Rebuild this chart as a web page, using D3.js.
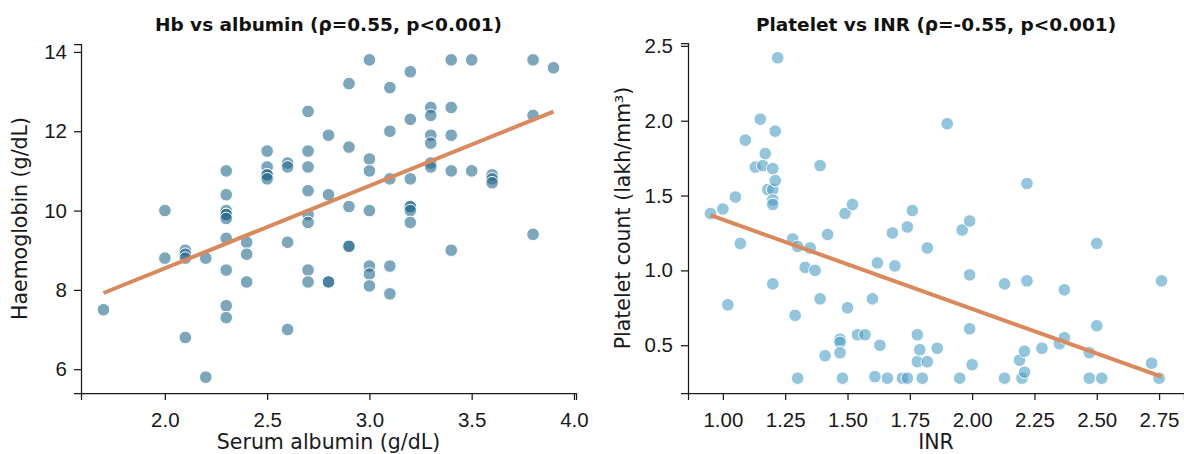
<!DOCTYPE html>
<html>
<head>
<meta charset="utf-8">
<script src="https://cdn.jsdelivr.net/npm/d3@7"></script>
<style>
  body { margin: 0; background: #fff; }
  svg { display: block; font-family: "DejaVu Sans", sans-serif; }
  .tick text { font-size: 20.5px; fill: #1a1a1a; }
  .tick line, .domain { stroke: #1a1a1a; stroke-width: 1.25; }
  .axlabel { font-size: 20.5px; fill: #1a1a1a; }
  .title { font-size: 18.5px; font-weight: bold; fill: #111; }
</style>
</head>
<body>
<div class="viz"></div>
<script>
// left panel: serum albumin vs haemoglobin
const albumin = [1.7,
  2.0, 2.0,
  2.1, 2.1, 2.1, 2.1,
  2.2, 2.2,
  2.3, 2.3, 2.3, 2.3, 2.3, 2.3, 2.3, 2.3, 2.3, 2.3,
  2.4, 2.4, 2.4,
  2.5, 2.5, 2.5, 2.5, 2.5,
  2.6, 2.6, 2.6, 2.6,
  2.7, 2.7, 2.7, 2.7, 2.7, 2.7, 2.7, 2.7,
  2.8, 2.8, 2.8, 2.8,
  2.9, 2.9, 2.9, 2.9, 2.9,
  3.0, 3.0, 3.0, 3.0, 3.0, 3.0, 3.0,
  3.1, 3.1, 3.1, 3.1, 3.1,
  3.2, 3.2, 3.2, 3.2, 3.2, 3.2, 3.2,
  3.3, 3.3, 3.3, 3.3, 3.3, 3.3,
  3.4, 3.4, 3.4, 3.4, 3.4,
  3.5, 3.5,
  3.6, 3.6, 3.6,
  3.8, 3.8, 3.8,
  3.9]
const hb = [7.5,
  10.0, 8.8,
  9.0, 8.9, 8.8, 6.8,
  8.8, 5.8,
  11.0, 10.4, 10.0, 9.9, 9.9, 9.8, 9.3, 8.5, 7.6, 7.3,
  9.2, 8.9, 8.2,
  11.5, 11.1, 10.9, 10.9, 10.8,
  11.2, 11.1, 9.2, 7.0,
  12.5, 11.5, 11.1, 10.5, 9.9, 9.7, 8.5, 8.2,
  11.9, 10.4, 8.2, 8.2,
  13.2, 11.6, 10.1, 9.1, 9.1,
  13.8, 11.3, 11.0, 10.0, 8.6, 8.4, 8.1,
  13.1, 12.0, 10.8, 8.6, 7.9,
  13.5, 12.3, 10.8, 10.1, 10.1, 10.0, 9.7,
  12.6, 12.4, 11.9, 11.7, 11.2, 11.1,
  13.8, 12.6, 11.9, 11.0, 9.0,
  13.8, 11.0,
  10.9, 10.8, 10.7,
  13.8, 12.4, 9.4,
  13.6]
const hbFit = [4.385, 2.08]   // intercept, slope

// right panel: INR vs platelet count
const inr = [0.95, 1.00, 1.02, 1.05, 1.07, 1.09, 1.13, 1.15, 1.16, 1.17, 1.18, 1.20, 1.20, 1.20, 1.20, 1.20,
  1.21, 1.21, 1.22, 1.28, 1.29, 1.30, 1.30, 1.33, 1.35, 1.37, 1.39, 1.39, 1.41, 1.42, 1.47, 1.47, 1.47,
  1.48, 1.49, 1.50, 1.52, 1.54, 1.57, 1.60, 1.61, 1.62, 1.63, 1.66, 1.68, 1.69, 1.72, 1.74, 1.74, 1.76,
  1.78, 1.78, 1.79, 1.80, 1.82, 1.82, 1.86, 1.90, 1.95, 1.96, 1.99, 1.99, 1.99, 2.00, 2.13, 2.13, 2.19,
  2.20, 2.21, 2.21, 2.22, 2.22, 2.28, 2.35, 2.37, 2.37, 2.47, 2.47, 2.50, 2.50, 2.52, 2.72, 2.75, 2.76]
const platelet = [1.38, 1.41, 0.77, 1.49, 1.18, 1.87, 1.69, 2.01, 1.70, 1.78, 1.54, 1.68, 1.54, 1.47, 1.44, 0.91,
  1.93, 1.60, 2.42, 1.21, 0.70, 1.16, 0.28, 1.02, 1.15, 1.00, 1.70, 0.81, 0.43, 1.24, 0.54, 0.52, 0.45,
  0.28, 1.38, 0.75, 1.44, 0.57, 0.57, 0.81, 0.29, 1.05, 0.50, 0.28, 1.25, 1.03, 0.28, 1.29, 0.28, 1.40,
  0.57, 0.39, 0.47, 0.28, 1.15, 0.39, 0.48, 1.98, 0.28, 1.27, 1.33, 0.97, 0.61, 0.37, 0.91, 0.28, 0.40,
  0.28, 0.32, 0.46, 1.58, 0.93, 0.48, 0.51, 0.87, 0.55, 0.45, 0.28, 1.18, 0.63, 0.28, 0.38, 0.28, 0.93]
const pltFit = [1.935, -0.596]

const albTicks = [2.0, 2.5, 3.0, 3.5, 4.0]
const hbTicks = [6, 8, 10, 12, 14]
const inrTicks = [1.00, 1.25, 1.50, 1.75, 2.00, 2.25, 2.50, 2.75]
const pltTicks = [0.5, 1.0, 1.5, 2.0, 2.5]

const width = 1184, height = 454

const svg = d3.select('.viz').append('svg')
  .attr('width', width)
  .attr('height', height)

function panel(o) {
  const x = d3.scaleLinear(o.xDomain, [o.left, o.right])
  const y = d3.scaleLinear(o.yDomain, [o.bottom, o.top])
  const g = svg.append('g')

  g.append('g')
    .attr('transform', `translate(0,${o.bottom})`)
    .call(d3.axisBottom(x).tickValues(o.xTicks).tickFormat(d3.format(o.xFmt)).tickSizeOuter(0).tickSize(7).tickPadding(12))

  g.append('g')
    .attr('transform', `translate(${o.left},0)`)
    .call(d3.axisLeft(y).tickValues(o.yTicks).tickFormat(d3.format(o.yFmt)).tickSizeOuter(0).tickSize(7).tickPadding(o.yPad))

  const pts = o.xs.map((v, i) => [v, o.ys[i]])
  g.append('g')
    .selectAll('circle')
    .data(pts)
    .join('circle')
      .attr('cx', d => x(d[0]))
      .attr('cy', d => y(d[1]))
      .attr('r', 6.3)
      .attr('fill', o.color)
      .attr('fill-opacity', 0.6)
      .attr('stroke', '#fff')
      .attr('stroke-width', 1)

  const ext = d3.extent(o.xs)
  g.append('line')
    .attr('x1', x(ext[0])).attr('y1', y(o.fit[0] + o.fit[1] * ext[0]))
    .attr('x2', x(ext[1])).attr('y2', y(o.fit[0] + o.fit[1] * ext[1]))
    .attr('stroke', '#d9895b')
    .attr('stroke-width', 4)

  g.append('text')
    .classed('title', true)
    .attr('x', (o.left + o.right) / 2)
    .attr('y', 31)
    .attr('text-anchor', 'middle')
    .text(o.title)

  g.append('text')
    .classed('axlabel', true)
    .attr('x', (o.left + o.right) / 2)
    .attr('y', 449)
    .attr('text-anchor', 'middle')
    .text(o.xLabel)

  g.append('text')
    .classed('axlabel', true)
    .attr('transform', `translate(${o.yLabelX},${(o.top + o.bottom) / 2}) rotate(-90)`)
    .attr('text-anchor', 'middle')
    .text(o.yLabel)
}

panel({
  xs: albumin, ys: hb, fit: hbFit,
  xDomain: [1.59, 4.01], yDomain: [5.4, 14.2],
  left: 81, right: 576, top: 44, bottom: 393,
  xTicks: albTicks, yTicks: hbTicks, xFmt: '.1f', yFmt: 'd', yPad: 7,
  color: '#256b8e',
  title: 'Hb vs albumin (ρ=0.55, p<0.001)',
  xLabel: 'Serum albumin (g/dL)', yLabel: 'Haemoglobin (g/dL)', yLabelX: 27
})

panel({
  xs: inr, ys: platelet, fit: pltFit,
  xDomain: [0.86, 2.85], yDomain: [0.181, 2.519],
  left: 688, right: 1184, top: 43, bottom: 393,
  xTicks: inrTicks, yTicks: pltTicks, xFmt: '.2f', yFmt: '.1f', yPad: 8,
  color: '#4b9fc6',
  title: 'Platelet vs INR (ρ=-0.55, p<0.001)',
  xLabel: 'INR', yLabel: 'Platelet count (lakh/mm³)', yLabelX: 630
})
</script>
</body>
</html>
